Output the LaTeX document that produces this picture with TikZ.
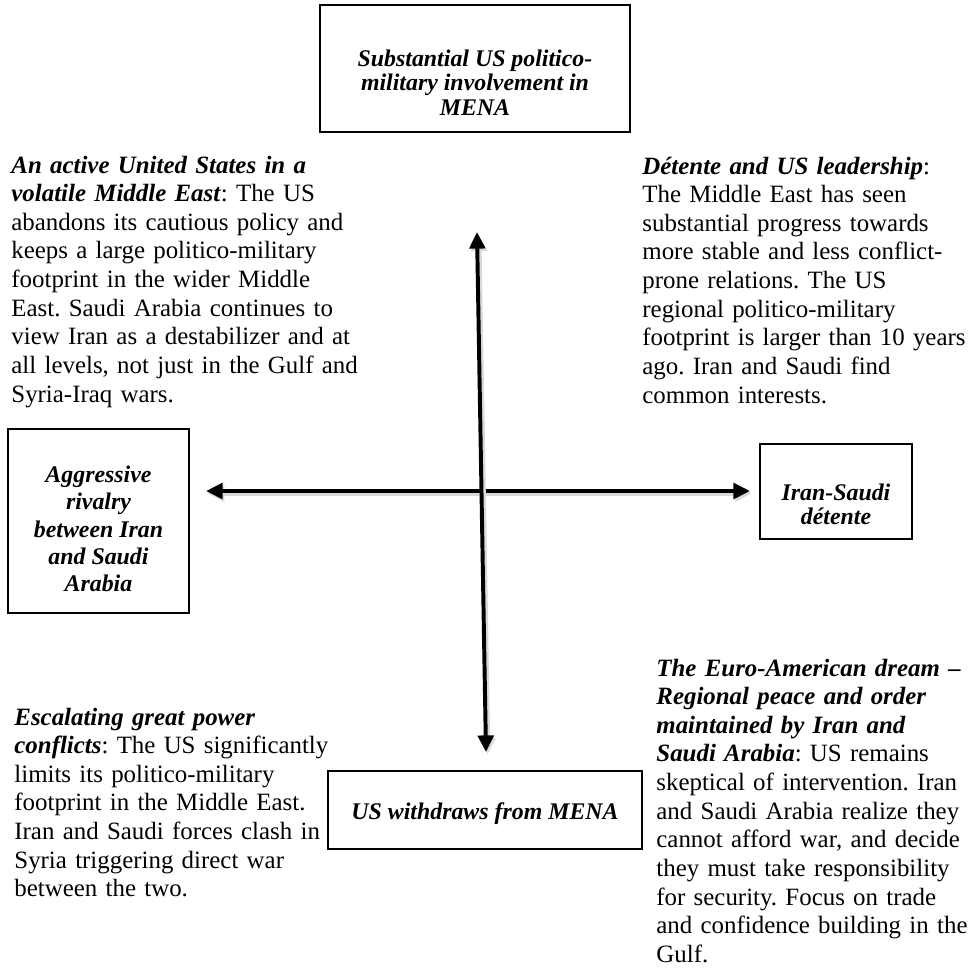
\documentclass[tikz,border=0pt]{standalone}
\usepackage{fontspec}
\setmainfont{Liberation Serif}
\frenchspacing
\usepackage{tikz}
\usetikzlibrary{calc,fit,arrows.meta}

\tikzset{
  scentext/.style={anchor=base west, inner sep=0pt, text width=190pt, align=left, font=\fontsize{12}{13.8}\selectfont},
  axisbox/.style={draw, line width=0.9pt, inner sep=0pt},
  boxtext/.style={inner sep=0pt, align=center, font=\bfseries\itshape\fontsize{11.5}{11.8}\selectfont},
  axisarrow/.style={line width=1.9pt, {Triangle[length=8pt,width=7.5pt]}-{Triangle[length=8pt,width=7.5pt]},
    preaction={draw=black!15, line width=2.6pt, transform canvas={shift={(0.8pt,-1.2pt)}}}},
}

\begin{document}
\begin{tikzpicture}[x=0.482pt, y=-0.482pt]
	\useasboundingbox (0,0) rectangle (975,971);

	% the four poles
	\node[axisbox, fit={(320,5) (630,132)}] (usin) {};
	\node[boxtext] (usinlabel) at ($(usin.center)+(0,14)$) {Substantial US politico-\\military involvement in\\MENA};

	\node[axisbox, fit={(8,429) (189,613)}] (rivalry) {};
	\node[boxtext, font=\bfseries\itshape\fontsize{11.5}{13.2}\selectfont] (rivalrylabel) at ($(rivalry.center)+(0,8)$) {Aggressive\\rivalry\\between Iran\\and Saudi\\Arabia};

	\node[axisbox, fit={(760,444) (912,539)}] (detbox) {};
	\node[boxtext] (detboxlabel) at ($(detbox.center)+(0,13)$) {Iran-Saudi\\détente};

	\node[axisbox, fit={(328,771) (642,849)}] (usout) {};
	\node[boxtext] (usoutlabel) at ($(usout.center)+(0,4)$) {US withdraws from MENA};

	% axes
	\coordinate (ytop) at (477,232);
	\coordinate (ybot) at (486,752);
	\coordinate (xleft) at (206,491);
	\coordinate (xright) at (750,491);

	\draw[axisarrow] (xleft) -- (xright);
	\draw[axisarrow] (ytop) -- (ybot);

	% scenarios
	\node[scentext] (activeus) at (11,173) {\textbf{\textit{An active United States in a}}\\
		\textbf{\textit{volatile Middle East}}: The US\\
		abandons its cautious policy and\\
		keeps a large politico-military\\
		footprint in the wider Middle\\
		East. Saudi Arabia continues to\\
		view Iran as a destabilizer and at\\
		all levels, not just in the Gulf and\\
		Syria-Iraq wars.};

	\node[scentext] (leadership) at (642,174) {\textbf{\textit{Détente and US leadership}}:\\
		The Middle East has seen\\
		substantial progress towards\\
		more stable and less conflict-\\
		prone relations. The US\\
		regional politico-military\\
		footprint is larger than 10 years\\
		ago. Iran and Saudi find\\
		common interests.};

	\node[scentext] (escalate) at (14,725) {\textbf{\textit{Escalating great power}}\\
		\textbf{\textit{conflicts}}: The US significantly\\
		limits its politico-military\\
		footprint in the Middle East.\\
		Iran and Saudi forces clash in\\
		Syria triggering direct war\\
		between the two.};

	\node[scentext] (eurodream) at (656,676) {\textbf{\textit{The Euro-American dream –}}\\
		\textbf{\textit{Regional peace and order}}\\
		\textbf{\textit{maintained by Iran and}}\\
		\textbf{\textit{Saudi Arabia}}: US remains\\
		skeptical of intervention. Iran\\
		and Saudi Arabia realize they\\
		cannot afford war, and decide\\
		they must take responsibility\\
		for security. Focus on trade\\
		and confidence building in the\\
		Gulf.};

\end{tikzpicture}
\end{document}
